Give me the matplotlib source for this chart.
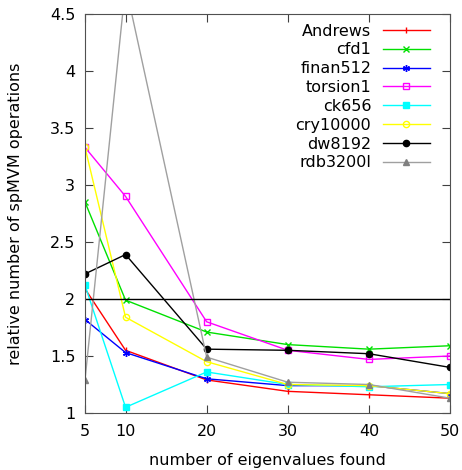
import matplotlib
matplotlib.use("Agg")
import matplotlib.pyplot as plt

x = [5, 10, 20, 30, 40, 50]
names = ["Andrews", "cfd1", "finan512", "torsion1", "ck656", "cry10000", "dw8192", "rdb3200l"]
andrews = [2.09, 1.55, 1.29, 1.19, 1.16, 1.13]
cfd1 = [2.85, 1.99, 1.71, 1.60, 1.56, 1.59]
finan512 = [1.82, 1.53, 1.30, 1.24, 1.24, 1.17]
torsion1 = [3.33, 2.90, 1.80, 1.55, 1.47, 1.50]
ck656 = [2.12, 1.05, 1.36, 1.25, 1.23, 1.25]
cry10000 = [3.33, 1.84, 1.45, 1.25, 1.24, 1.17]
dw8192 = [2.22, 2.39, 1.56, 1.55, 1.52, 1.40]
rdb3200l = [1.29, 4.75, 1.49, 1.27, 1.25, 1.13]
series = [andrews, cfd1, finan512, torsion1, ck656, cry10000, dw8192, rdb3200l]
xticks = [5, 10, 20, 30, 40, 50]
yticks = [1, 1.5, 2, 2.5, 3, 3.5, 4, 4.5]
ref_level = 2

styles = [
    dict(color="#ff0000", marker="|", ms=5, mfc="#ff0000"),
    dict(color="#00e000", marker="x", ms=4.5, mfc="#00e000"),
    dict(color="#0000ff", marker=(6, 2, 0), ms=5, mfc="#0000ff"),
    dict(color="#ff00ff", marker="s", ms=4.5, mfc="none"),
    dict(color="#00ffff", marker="s", ms=4.5, mfc="#00ffff"),
    dict(color="#ffff00", marker="o", ms=4.5, mfc="none"),
    dict(color="#000000", marker="o", ms=4.5, mfc="#000000"),
    dict(color="#a0a0a0", marker="^", ms=4.5, mfc="#808080", mec="#808080"),
]

fs = 11.5
fig = plt.figure(figsize=(4.62, 4.70), dpi=100)
ax = fig.add_axes([85/462, 1-413/470, 365/462, 399/470])
for name, ys, st in zip(names, series, styles):
    ax.plot(x, ys, label=name, lw=1, mew=1, **st)
ax.axhline(ref_level, color="black", lw=1)

ax.set_xlim(5, 50)
ax.set_ylim(1, 4.5)
ax.set_xticks(xticks)
ax.set_yticks(yticks)
ax.set_yticklabels([f"{v:g}" for v in yticks])
ax.tick_params(direction="in", top=True, right=True, labelsize=fs, length=6,
               color="#404040")
ax.tick_params(axis="x", pad=8)
ax.tick_params(axis="y", pad=7)
for s in ax.spines.values():
    s.set_color("#505050")
ax.set_xlabel("number of eigenvalues found", fontsize=fs, labelpad=10)
ax.set_ylabel("relative number of spMVM operations", fontsize=fs, labelpad=19)
leg = ax.legend(loc="upper right", bbox_to_anchor=(1 - 10/365, 1), frameon=False,
                markerfirst=False, fontsize=fs,
                handlelength=3.0, labelspacing=0.24, borderaxespad=0.3, handletextpad=0.7,
                borderpad=0.3)
fig.savefig("out.png", dpi=100)
